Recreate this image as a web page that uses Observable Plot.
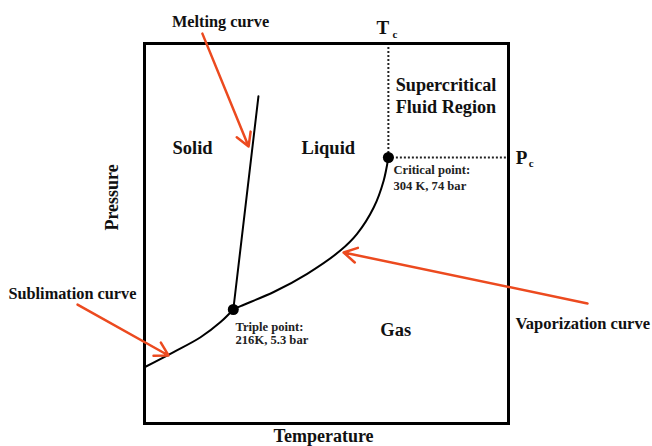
<!DOCTYPE html>
<html>
<head>
<meta charset="utf-8">
<script src="https://cdn.jsdelivr.net/npm/d3@7"></script>
<script src="https://cdn.jsdelivr.net/npm/@observablehq/plot@0.6"></script>
<style>
  html, body { margin: 0; padding: 0; background: #fff; }
  svg { font-family: "Liberation Serif", "DejaVu Serif", serif; }
</style>
</head>
<body>
<div id="chart"></div>
<script>
// Schematic phase diagram of CO2, in arbitrary units (temperature 0..100, pressure 0..100)
const triplePoint = {t: 24.4, p: 30.0};
const criticalPoint = {t: 67.0, p: 70.0};

const sublimationT = [0, 8.0, 15.4, 20.9, 24.4];
const sublimationP = [14.8, 18.8, 22.7, 26.7, 30.0];

const vaporizationT = [24.4, 26.4, 35.5, 44.7, 53.8, 58.4, 63.0, 65.7, 67.0];
const vaporizationP = [30.0, 30.9, 34.6, 39.4, 45.5, 49.9, 56.9, 63.9, 70.0];

const meltingT = [24.4, 31.3];
const meltingP = [30.0, 86.1];

// annotation arrows
const arrowNames = ["Melting curve", "Sublimation curve", "Vaporization curve"];
const arrowFromT = [15.9, -18.4, 121.7];
const arrowFromP = [102.6, 31.3, 31.6];
const arrowToT = [28.6, 6.6, 54.7];
const arrowToP = [72.9, 17.9, 45.0];

// region labels
const regionNames = ["Solid", "Liquid", "Gas"];
const regionT = [13.2, 50.5, 69.0];
const regionP = [72.6, 72.6, 24.5];

// curve labels
const curveLabels = ["Melting curve", "Sublimation curve"];
const curveLabelT = [20.9, -19.8];
const curveLabelP = [105.8, 34.2];

const vapLabel = "Vaporization curve";
const vapLabelT = 101.9, vapLabelP = 26.3;

const superLabel = ["Supercritical", "Fluid Region"];
const superT = 69.0, superP = [89.0, 83.2];

const pointLabels = ["Critical point:", "304 K, 74 bar", "Triple point:", "216K, 5.3 bar"];
const pointLabelT = [68.4, 68.4, 25.0, 25.0];
const pointLabelP = [66.8, 62.6, 25.5, 22.1];

const mk = (ts, ps) => ts.map((t, i) => ({t, p: ps[i]}));
const sub = mk(sublimationT, sublimationP);
const vap = mk(vaporizationT, vaporizationP);
const melt = mk(meltingT, meltingP);
const arrows = arrowNames.map((n, i) => ({n, x1: arrowFromT[i], y1: arrowFromP[i], x2: arrowToT[i], y2: arrowToP[i]}));
const red = "#ec4a1f";

const plot = Plot.plot({
  width: 652,
  height: 446,
  marginTop: 43, marginRight: 144, marginBottom: 23, marginLeft: 144,
  x: {domain: [0, 100], axis: null},
  y: {domain: [0, 100], axis: null},
  style: {fontFamily: "'Liberation Serif', serif", background: "#fff", overflow: "hidden"},
  marks: [
    Plot.ruleX([criticalPoint.t], {y1: criticalPoint.p, y2: 100, stroke: "#222", strokeWidth: 2, strokeDasharray: "2,2"}),
    Plot.ruleY([criticalPoint.p], {x1: criticalPoint.t, x2: 100, stroke: "#222", strokeWidth: 2, strokeDasharray: "2,2"}),
    Plot.frame({stroke: "#000", strokeWidth: 3}),
    Plot.line(sub, {x: "t", y: "p", curve: "catmull-rom", stroke: "#000", strokeWidth: 2}),
    Plot.line(vap, {x: "t", y: "p", curve: "catmull-rom", stroke: "#000", strokeWidth: 2}),
    Plot.line(melt, {x: "t", y: "p", stroke: "#000", strokeWidth: 2}),
    Plot.dot([triplePoint, criticalPoint], {x: "t", y: "p", r: 5.5, fill: "#000"}),
    Plot.arrow(arrows, {x1: "x1", y1: "y1", x2: "x2", y2: "y2", stroke: red, strokeWidth: 2.5, headLength: 9, bend: 0}),
    Plot.text(regionNames, {x: (d, i) => regionT[i], y: (d, i) => regionP[i], text: d => d, fontSize: 18.5, fontWeight: "bold", fill: "#111"}),
    Plot.text(curveLabels, {x: (d, i) => curveLabelT[i], y: (d, i) => curveLabelP[i], text: d => d, fontSize: 16.3, fontWeight: "bold", fill: "#111"}),
    Plot.text([vapLabel], {x: vapLabelT, y: vapLabelP, text: d => d, textAnchor: "start", fontSize: 16.5, fontWeight: "bold", fill: "#111"}),
    Plot.text(superLabel, {x: superT, y: (d, i) => superP[i], text: d => d, textAnchor: "start", fontSize: 18.2, fontWeight: "bold", fill: "#111"}),
    Plot.text(pointLabels, {x: (d, i) => pointLabelT[i], y: (d, i) => pointLabelP[i], text: d => d, textAnchor: "start", fontSize: 12.6, fontWeight: "bold", fill: "#222"}),
    Plot.text(["T"], {x: criticalPoint.t - 1.5, y: 104, text: d => d, fontSize: 19, fontWeight: "bold", fill: "#111"}),
    Plot.text(["c"], {x: criticalPoint.t + 1.8, y: 102.3, text: d => d, fontSize: 11, fontWeight: "bold", fill: "#111"}),
    Plot.text(["P"], {x: 103.6, y: criticalPoint.p, text: d => d, fontSize: 19, fontWeight: "bold", fill: "#111"}),
    Plot.text(["c"], {x: 106.2, y: criticalPoint.p - 1.5, text: d => d, fontSize: 11, fontWeight: "bold", fill: "#111"}),
    Plot.text(["Pressure"], {x: -8.8, y: 59.5, text: d => d, rotate: -90, fontSize: 18, fontWeight: "bold", fill: "#111"}),
    Plot.text(["Temperature"], {x: 49.2, y: -3.3, text: d => d, fontSize: 18, fontWeight: "bold", fill: "#111"})
  ]
});
document.getElementById("chart").append(plot);
</script>
</body>
</html>
